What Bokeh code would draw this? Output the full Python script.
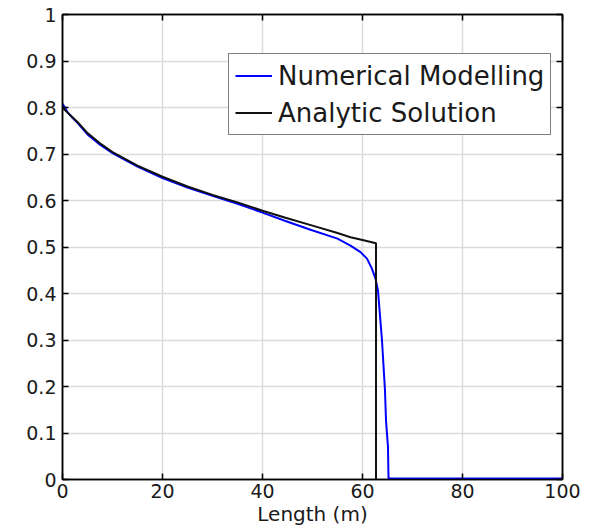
from bokeh.plotting import figure
from bokeh.models import LinearAxis, FixedTicker, Range1d, Legend, LegendItem, CustomLabelingPolicy
from bokeh.embed import file_html
from bokeh.resources import INLINE

# Data
num_x = [0, 0.5, 1, 2, 3, 5, 7.5, 10, 15, 20, 25, 30, 35, 40, 44.6, 49.6, 55, 57.6, 59.6,
         60.9, 61.9, 62.6, 63.1, 63.9, 64.5, 64.7, 65.1, 65.2, 70, 100]
num_y = [0.808, 0.800, 0.790, 0.778, 0.767, 0.742, 0.720, 0.702, 0.673, 0.648, 0.628,
         0.610, 0.593, 0.574, 0.556, 0.537, 0.518, 0.503, 0.489, 0.475, 0.453, 0.432,
         0.406, 0.299, 0.191, 0.127, 0.069, 0.002, 0.002, 0.002]

ana_x = [0, 1, 2, 3, 5, 7.5, 10, 15, 20, 25, 30, 35, 40, 44.6, 50, 55, 57.6, 60, 62.7, 62.7]
ana_y = [0.800, 0.789, 0.779, 0.769, 0.745, 0.723, 0.704, 0.675, 0.651, 0.630, 0.612,
         0.596, 0.578, 0.563, 0.546, 0.530, 0.521, 0.515, 0.508, 0.0]

x_ticks = [0, 20, 40, 60, 80, 100]
x_labels = ["0", "20", "40", "60", "80", "100"]
y_ticks = [0, 0.1, 0.2, 0.3, 0.4, 0.5, 0.6, 0.7, 0.8, 0.9, 1]
y_labels = ["0", "0.1", "0.2", "0.3", "0.4", "0.5", "0.6", "0.7", "0.8", "0.9", "1"]

FONT = "DejaVu Sans"
TXT = "#1a1a1a"

p = figure(width=596, height=529, output_backend="svg", toolbar_location=None,
           x_range=Range1d(0, 100), y_range=Range1d(0, 1),
           x_axis_label="Length (m)",
           min_border_left=62, min_border_right=34, min_border_top=14, min_border_bottom=50)

p.outline_line_color = "black"
p.outline_line_width = 1.5
p.background_fill_color = "white"
p.border_fill_color = "white"

for ax in (p.xaxis[0], p.yaxis[0]):
    ax.axis_line_color = "black"
    ax.axis_line_width = 1.5
    ax.major_tick_in = 6
    ax.major_tick_out = 0
    ax.minor_tick_line_color = None
    ax.major_tick_line_color = "black"
    ax.major_tick_line_width = 1.5
    ax.major_label_text_font = FONT
    ax.major_label_text_color = TXT
    ax.major_label_text_font_size = "19px"

p.xaxis[0].ticker = FixedTicker(ticks=x_ticks)
p.xaxis[0].major_label_overrides = {t: l for t, l in zip(x_ticks, x_labels)}
p.yaxis[0].ticker = FixedTicker(ticks=y_ticks)
p.yaxis[0].major_label_overrides = {t: l for t, l in zip(y_ticks, y_labels)}
p.xaxis[0].major_label_standoff = 4
p.yaxis[0].major_label_standoff = 6
p.xaxis[0].axis_label_text_font = FONT
p.xaxis[0].axis_label_text_font_style = "normal"
p.xaxis[0].axis_label_text_font_size = "20px"
p.xaxis[0].axis_label_text_color = TXT
p.xaxis[0].axis_label_standoff = 1

hide = CustomLabelingPolicy(code="return new indices.constructor(indices.size)")
hide2 = CustomLabelingPolicy(code="return new indices.constructor(indices.size)")
top = LinearAxis(ticker=FixedTicker(ticks=x_ticks), major_label_text_font_size="1px",
                 major_label_policy=hide,
                 major_tick_in=6, major_tick_out=0, minor_tick_line_color=None,
                 major_tick_line_width=1.5, axis_line_width=1.5,
                 axis_line_color="black", major_label_standoff=0)
right = LinearAxis(ticker=FixedTicker(ticks=y_ticks), major_label_text_font_size="1px",
                   major_label_policy=hide2,
                   major_tick_in=6, major_tick_out=0, minor_tick_line_color=None,
                   major_tick_line_width=1.5, axis_line_width=1.5,
                   axis_line_color="black", major_label_standoff=0)
p.add_layout(top, "above")
p.add_layout(right, "right")

p.xgrid.ticker = FixedTicker(ticks=x_ticks)
p.ygrid.ticker = FixedTicker(ticks=y_ticks)
p.grid.grid_line_color = "#dcdcdc"
p.grid.grid_line_width = 1.5

r_num = p.line(num_x, num_y, line_color="#0000ff", line_width=2)
r_ana = p.line(ana_x, ana_y, line_color="#111111", line_width=2)

legend = Legend(items=[LegendItem(label="Numerical Modelling", renderers=[r_num]),
                       LegendItem(label="Analytic Solution", renderers=[r_ana])],
                location=(166, 344))
legend.label_text_font = FONT
legend.label_text_font_size = "26px"
legend.label_text_color = TXT
legend.glyph_width = 37
legend.glyph_height = 31
legend.label_height = 31
legend.label_standoff = 6
legend.spacing = 6
legend.padding = 6
legend.margin = 0
legend.border_line_color = "black"
legend.border_line_width = 1.5
legend.background_fill_alpha = 1.0
p.add_layout(legend)

open("out.html", "w").write(file_html(p, INLINE))
